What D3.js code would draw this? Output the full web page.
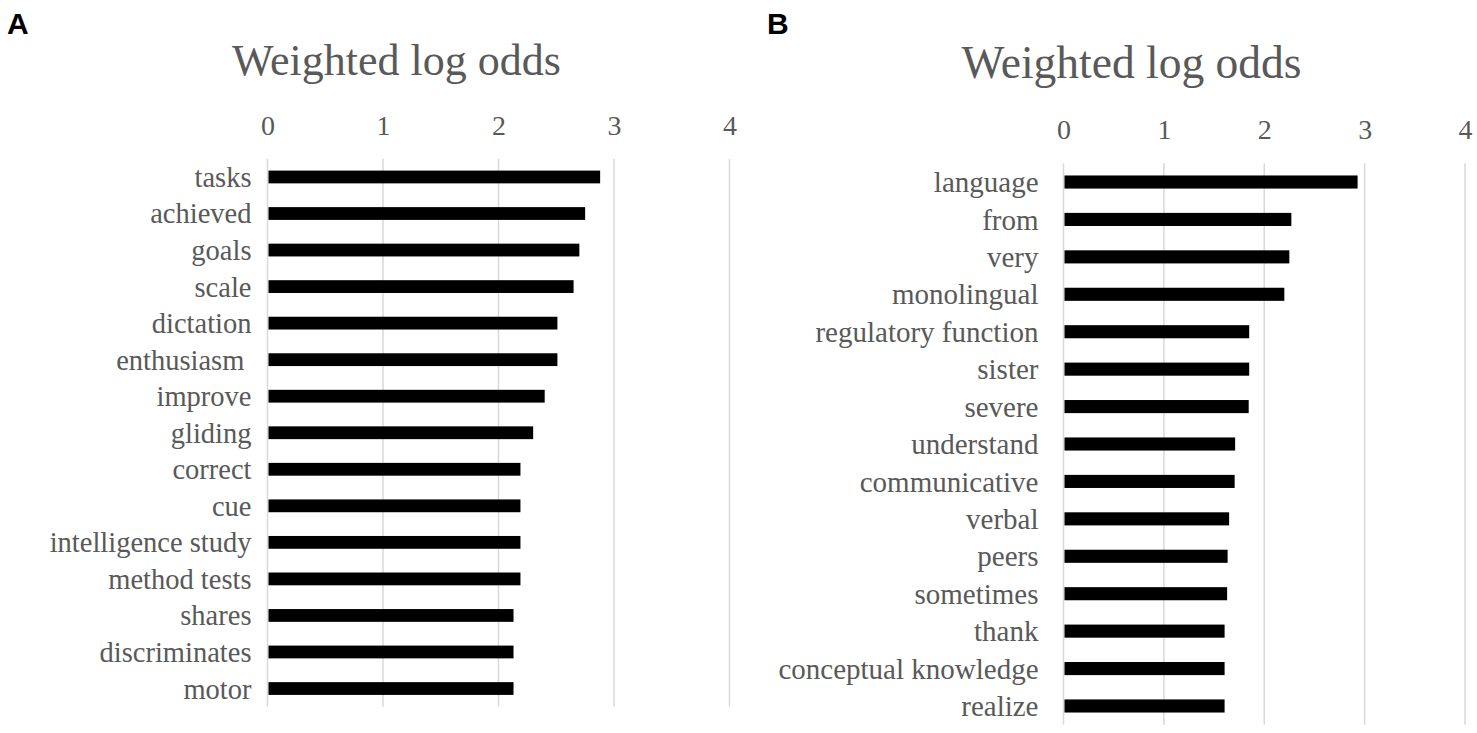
<!DOCTYPE html>
<html>
<head>
<meta charset="utf-8">
<script src="https://cdn.jsdelivr.net/npm/d3@7"></script>
<style>
	body { margin: 0; background: #fff; }
	svg { display: block; }
</style>
</head>
<body>
<div id="chart"></div>
<script>
const ticks = [0, 1, 2, 3, 4];

const wordsA = ["tasks", "achieved", "goals", "scale", "dictation", "enthusiasm ", "improve", "gliding",
	"correct", "cue", "intelligence study", "method tests", "shares", "discriminates", "motor"];
const valuesA = [2.88, 2.75, 2.70, 2.65, 2.51, 2.51, 2.40, 2.30,
	2.19, 2.19, 2.19, 2.19, 2.13, 2.13, 2.13];

const wordsB = ["language", "from", "very", "monolingual", "regulatory function", "sister", "severe", "understand",
	"communicative", "verbal", "peers", "sometimes", "thank", "conceptual knowledge", "realize"];
const valuesB = [2.93, 2.27, 2.25, 2.20, 1.85, 1.85, 1.845, 1.71,
	1.705, 1.65, 1.635, 1.63, 1.605, 1.605, 1.605];

const width = 1477;
const height = 733;
const grey = "#595959";

const svg = d3.select("#chart").append("svg")
	.attr("width", width)
	.attr("height", height)
	.style("font-family", "'Liberation Serif', 'Times New Roman', serif");

// panel A
drawPanel({
	letter: "A", letterX: 7,
	words: wordsA, values: valuesA,
	x0: 267.5, x4: 729.5,
	top: 158.7, bottom: 706.8,
	titleX: 396.5, titleY: 75, titleSize: 44,
	tickY: 135, labelGap: 16, labelSize: 28.5
});

// panel B
drawPanel({
	letter: "B", letterX: 767,
	words: wordsB, values: valuesB,
	x0: 1063.5, x4: 1465,
	top: 163.3, bottom: 724.7,
	titleX: 1131.5, titleY: 77.5, titleSize: 45.5,
	tickY: 139, labelGap: 25, labelSize: 29
});

function drawPanel(p) {
	const x = d3.scaleLinear()
		.domain([0, 4])
		.range([p.x0, p.x4]);

	const y = d3.scaleBand()
		.domain(p.words)
		.range([p.top, p.bottom])
		.paddingInner(0.65)
		.paddingOuter(0.325);

	const g = svg.append("g");

	// panel letter
	g.append("text")
		.attr("x", p.letterX)
		.attr("y", 34)
		.style("font-family", "'Liberation Sans', Arial, sans-serif")
		.style("font-weight", "bold")
		.style("font-size", "30px")
		.attr("fill", "#000")
		.text(p.letter);

	// title
	g.append("text")
		.attr("x", p.titleX)
		.attr("y", p.titleY)
		.attr("text-anchor", "middle")
		.style("font-size", p.titleSize + "px")
		.attr("fill", grey)
		.text("Weighted log odds");

	// gridlines
	g.append("g")
		.selectAll("line")
		.data(ticks)
		.join("line")
		.attr("x1", d => x(d))
		.attr("x2", d => x(d))
		.attr("y1", p.top)
		.attr("y2", p.bottom)
		.attr("stroke", "#d9d9d9")
		.attr("stroke-width", 1.5);

	// top axis, labels only
	const axis = g.append("g")
		.attr("transform", `translate(0,${p.tickY})`)
		.call(d3.axisTop(x).tickValues(ticks).tickFormat(d3.format("d")).tickSize(0).tickPadding(0));
	axis.select(".domain").remove();
	axis.selectAll("text")
		.attr("y", 0)
		.attr("dy", 0)
		.attr("fill", grey)
		.style("font-family", "'Liberation Serif', 'Times New Roman', serif")
		.style("font-size", "28px");

	// bars
	g.append("g")
		.selectAll("rect")
		.data(p.words)
		.join("rect")
		.attr("x", x(0) + 1)
		.attr("y", d => y(d))
		.attr("width", (d, i) => x(p.values[i]) - x(0) - 1)
		.attr("height", y.bandwidth())
		.attr("fill", "#000");

	// category labels
	g.append("g")
		.selectAll("text")
		.data(p.words)
		.join("text")
		.attr("x", x(0) - p.labelGap)
		.attr("y", d => y(d) + y.bandwidth() / 2)
		.attr("dy", "0.35em")
		.attr("text-anchor", "end")
		.style("white-space", "pre")
		.style("font-size", p.labelSize + "px")
		.attr("fill", grey)
		.text(d => d);
}
</script>
</body>
</html>
